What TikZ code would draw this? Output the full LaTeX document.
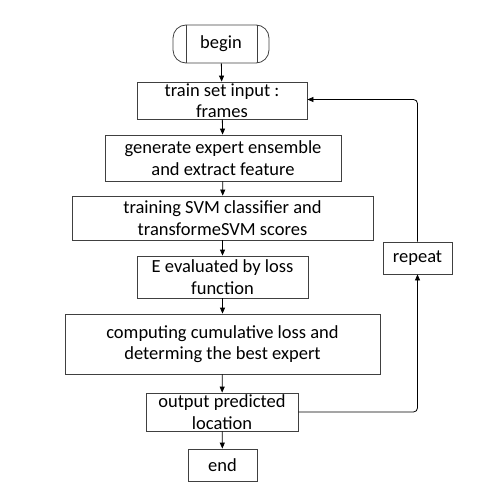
\documentclass[tikz,border=0pt]{standalone}
\usepackage{fontspec}
\setmainfont{Carlito}
\usetikzlibrary{arrows.meta}

\begin{document}
\begin{tikzpicture}[
        x=1pt, y=-1pt,
        >={Triangle[length=6pt, width=5pt]},
        stepbox/.style={draw=black!75, rectangle, align=center, inner sep=0pt, line width=0.8pt,
                        font=\fontsize{18.5}{21.5}\selectfont},
        flow/.style={->, line width=0.8pt}
        ]
    \useasboundingbox (0,0) rectangle (496,500);

    % Define start node
    \node[stepbox, rounded corners=13pt, minimum width=96pt, minimum height=38pt] (begin) at (221, 44) {begin};
    \draw[line width=0.8pt, black!75] ([xshift=-34.5pt]begin.north) -- ([xshift=-34.5pt]begin.south);
    \draw[line width=0.8pt, black!75] ([xshift=36.5pt]begin.north) -- ([xshift=36.5pt]begin.south);

    % Define step nodes
    \node[stepbox, minimum width=170pt, minimum height=37pt] (train) at (222, 100.5) {train set input :\\frames};
    \node[stepbox, minimum width=236pt, minimum height=46pt] (expert) at (223, 158) {generate expert ensemble\\and extract feature};
    \node[stepbox, minimum width=301pt, minimum height=44pt] (svm) at (222.5, 218) {training SVM classifier and\\transformeSVM scores};
    \node[stepbox, minimum width=171pt, minimum height=42pt] (loss) at (222.5, 277) {E evaluated by loss\\function};
    \node[stepbox, minimum width=315pt, minimum height=60pt] (best) at (222.5, 344) {computing cumulative loss and\\determing the best expert};
    \node[stepbox, minimum width=152pt, minimum height=38pt] (output) at (222, 412) {output predicted\\location};
    \node[stepbox, minimum width=69pt, minimum height=32pt] (end) at (222.5, 465) {end};

    % Define loop node
    \node[stepbox, minimum width=69pt, minimum height=32pt] (repeat) at (417.5, 258) {repeat};

    % Draw main flow
    \draw[flow] (begin) -- (train);
    \draw[flow] (train) -- (expert);
    \draw[flow] (expert) -- (svm);
    \draw[flow] (svm) -- (loss);
    \draw[flow] (loss) -- (best);
    \draw[flow] (best) -- (output);
    \draw[flow] (output) -- (end);

    % Draw loop back
    \draw[flow, rounded corners=4pt] (output.east) -| (repeat.south);
    \draw[flow, rounded corners=4pt] (repeat.north) |- ([yshift=1pt]train.east);

\end{tikzpicture}
\end{document}
